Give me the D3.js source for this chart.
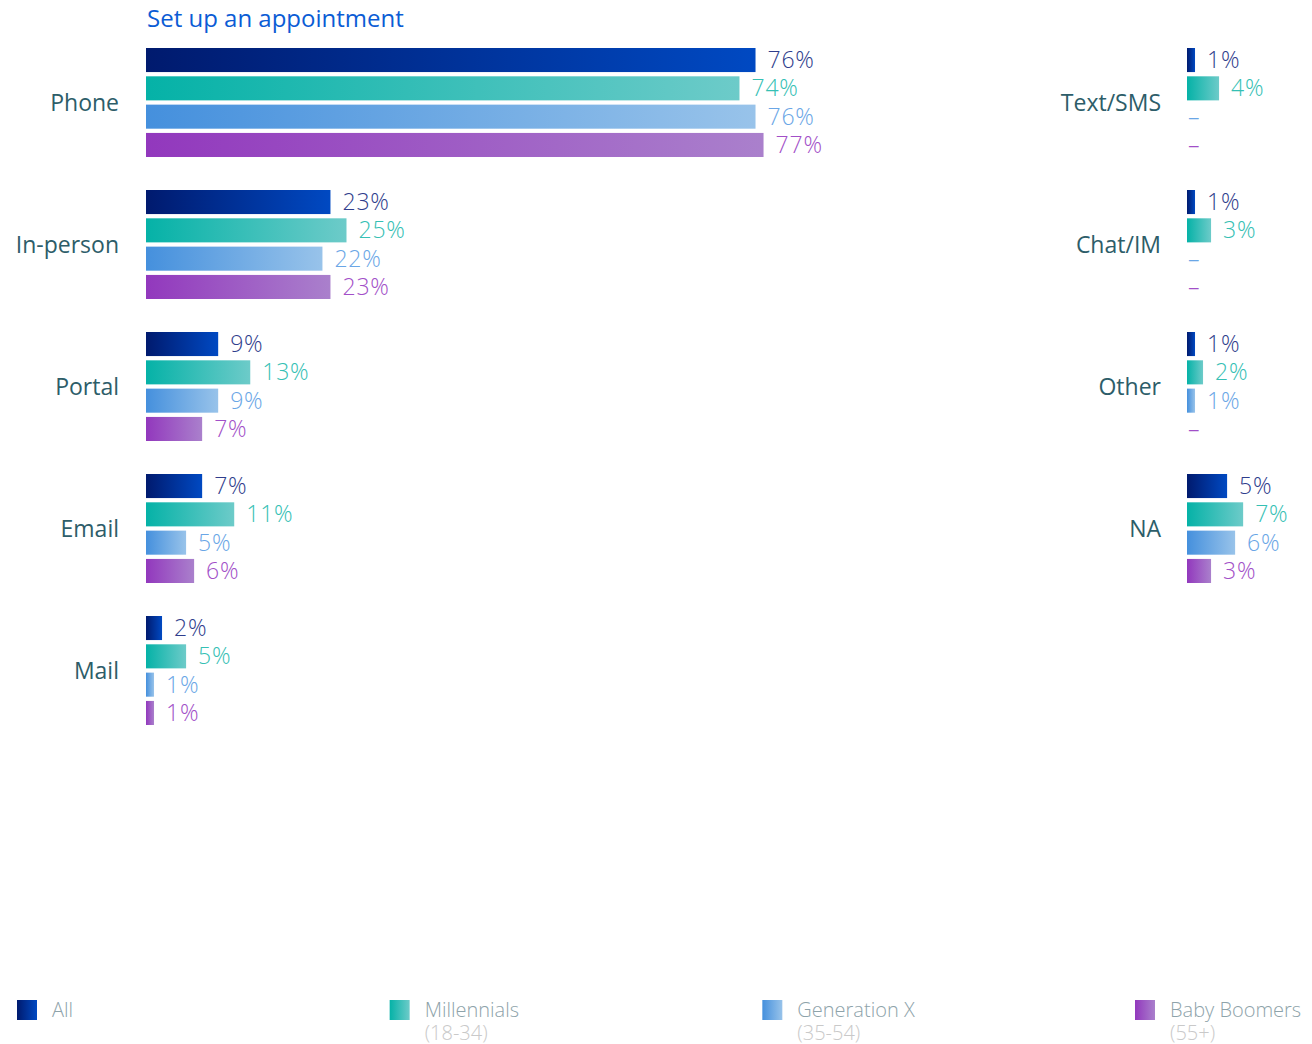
<!DOCTYPE html>
<html lang="en">
<head>
<meta charset="UTF-8">
<title>Set up an appointment</title>
<script src="https://cdn.jsdelivr.net/npm/d3@7"></script>
<style>
  body { margin: 0; background: #fff; }
  text { font-family: "Open Sans", "Noto Sans", sans-serif; }
</style>
</head>
<body>
<svg width="1312" height="1044"></svg>
<script>
// data
var series = ["All", "Millennials", "Generation X", "Baby Boomers"];
var seriesSub = ["", "(18-34)", "(35-54)", "(55+)"];
var leftCats = ["Phone", "In-person", "Portal", "Email", "Mail"];
var leftVals = [
  [76, 74, 76, 77],
  [23, 25, 22, 23],
  [9, 13, 9, 7],
  [7, 11, 5, 6],
  [2, 5, 1, 1]
];
var rightCats = ["Text/SMS", "Chat/IM", "Other", "NA"];
var rightVals = [
  [1, 4, null, null],
  [1, 3, null, null],
  [1, 2, 1, null],
  [5, 7, 6, 3]
];

var gradStops = [["#001a6e", "#0049c2"], ["#05b2a7", "#6dcbc9"], ["#4590dd", "#98c3ea"], ["#9238bd", "#aa80cc"]];
var textColors = ["#2f3d8c", "#35c0b4", "#6aa6e6", "#a24fc8"];

var svg = d3.select("svg");
var defs = svg.append("defs");
gradStops.forEach(function (s, i) {
  var g = defs.append("linearGradient").attr("id", "g" + i)
    .attr("x1", "0%").attr("x2", "100%").attr("y1", "0%").attr("y2", "0%");
  g.append("stop").attr("offset", "0%").attr("stop-color", s[0]);
  g.append("stop").attr("offset", "100%").attr("stop-color", s[1]);
});

svg.append("text").attr("x", 147).attr("y", 27)
  .attr("fill", "#0b5cd5").attr("font-size", 24).text("Set up an appointment");

var x = d3.scaleLinear().domain([0, 100]).range([0, 802]);
var groupY = d3.scaleBand().domain(d3.range(5)).range([48, 758]).paddingInner(0);
var barY = d3.scaleBand().domain(d3.range(4)).range([0, 109]).paddingInner(0.15);

// one column of grouped bars
function drawCol(cats, vals, x0, labelRight) {
  cats.forEach(function (c, ci) {
    var gy = groupY(ci);
    svg.append("text").attr("x", labelRight).attr("y", gy + 55 + 8)
      .attr("text-anchor", "end").attr("font-size", 23).attr("fill", "#2d5d69").text(c);
    vals[ci].forEach(function (v, si) {
      var y = gy + barY(si);
      if (v != null) {
        svg.append("rect").attr("x", x0).attr("y", y)
          .attr("width", x(v)).attr("height", barY.bandwidth())
          .attr("fill", "url(#g" + si + ")");
      }
      svg.append("text")
        .attr("x", v == null ? x0 + 1 : x0 + x(v) + 12)
        .attr("y", y + barY.bandwidth() / 2 + 8)
        .attr("font-size", 23).attr("font-weight", 300)
        .attr("letter-spacing", 0.8)
        .attr("fill", textColors[si])
        .text(v == null ? "–" : v + "%");
    });
  });
}

drawCol(leftCats, leftVals, 146, 119);
drawCol(rightCats, rightVals, 1187, 1161);

// legend
var lx = d3.scalePoint().domain(series).range([17, 1135]);
var leg = svg.selectAll(".leg").data(series).enter().append("g")
  .attr("transform", function (d) { return "translate(" + lx(d) + ",1000)"; });
leg.append("rect").attr("width", 20).attr("height", 20)
  .attr("fill", function (d, i) { return "url(#g" + i + ")"; });
leg.append("text").attr("x", 35).attr("y", 17).attr("font-size", 20).attr("font-weight", 300)
  .attr("fill", "#8ea3aa").text(function (d) { return d; });
leg.append("text").attr("x", 35).attr("y", 40).attr("font-size", 20).attr("font-weight", 300)
  .attr("fill", "#c9c9c9").text(function (d, i) { return seriesSub[i]; });
</script>
</body>
</html>
